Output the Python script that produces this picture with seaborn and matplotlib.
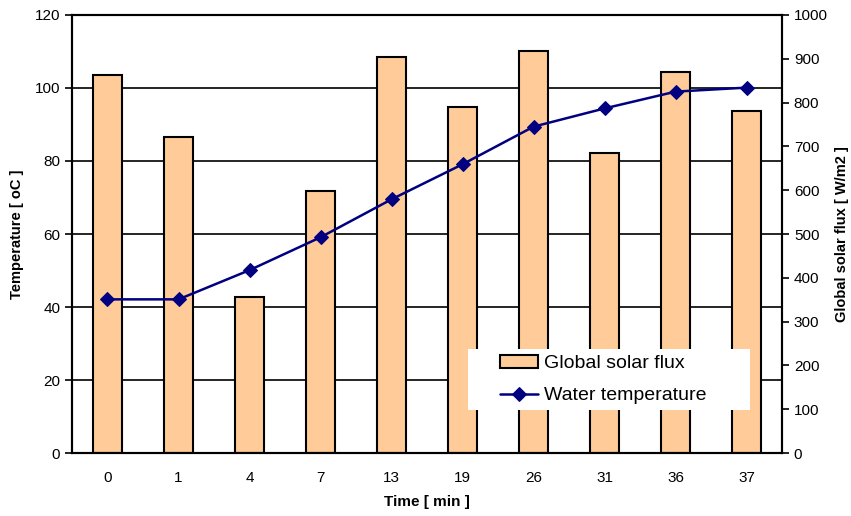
import numpy as np
import pandas as pd
import matplotlib
matplotlib.use('Agg')
import matplotlib.pyplot as plt
from matplotlib.patches import Rectangle
import seaborn as sns

# Data
times = ['0', '1', '4', '7', '13', '19', '26', '31', '36', '37']
solar_flux = [863, 721, 356, 599, 905, 791, 918, 686, 869, 781]
water_temp = [42.1, 42.1, 50.1, 59.1, 69.5, 79.1, 89.4, 94.4, 99.0, 100.1]
temp_ticks = [0, 20, 40, 60, 80, 100, 120]
flux_ticks = list(range(0, 1001, 100))

df = pd.DataFrame({'Time': times, 'Flux': solar_flux, 'Temp': water_temp})
df['pos'] = np.arange(len(df))

sns.set_style('white')
plt.rcParams['font.family'] = ['Liberation Sans', 'DejaVu Sans']
plt.rcParams['text.color'] = 'black'
plt.rcParams['axes.labelcolor'] = 'black'
plt.rcParams['xtick.color'] = 'black'
plt.rcParams['ytick.color'] = 'black'

fig = plt.figure(figsize=(8.51, 5.16), dpi=100)
ax = fig.add_axes([0.0846, 0.122, 0.8344, 0.849])

# gridlines follow the temperature ticks, drawn behind the bars
for t in temp_ticks:
    ax.axhline(t * 1000 / 120, color='black', lw=1.2, zorder=0)

sns.barplot(data=df, x='Time', y='Flux', order=times, color='#FFCC99',
            edgecolor='black', linewidth=1.5, width=0.41, saturation=1,
            ax=ax, label='Global solar flux', zorder=2)

ax_t = ax.twinx()
sns.lineplot(data=df, x='pos', y='Temp', color='#000080', lw=1.8, marker='D',
             markersize=7.5, markeredgecolor='#000080', ax=ax_t,
             label='Water temperature', zorder=4)

# flux axis on the right
ax.set_ylim(0, 1000)
ax.set_xlim(-0.5, len(times) - 0.5)
ax.yaxis.tick_right()
ax.yaxis.set_label_position('right')
ax.set_yticks(flux_ticks)
ax.set_ylabel('Global solar flux [ W/m2 ]', fontsize=10.5, fontweight='bold', labelpad=5)
ax.set_xlabel('Time [ min ]', fontsize=11, fontweight='bold', labelpad=7)
ax.set_xticks(np.arange(len(times)))
ax.set_xticklabels(times)
ax.set_xticks(np.arange(-0.5, len(times)), minor=True)
ax.tick_params(axis='x', which='major', length=0, labelsize=11, pad=13)
ax.tick_params(axis='x', which='minor', length=5, width=1.2, direction='out', color='black')
ax.tick_params(axis='y', length=5, width=1.2, direction='out', labelsize=11, color='black',
               right=True, left=False, labelright=True, labelleft=False)

# temperature axis on the left
ax_t.yaxis.tick_left()
ax_t.yaxis.set_label_position('left')
ax_t.set_ylim(0, 120)
ax_t.set_yticks(temp_ticks)
ax_t.set_ylabel('Temperature [ oC ]', fontsize=10.5, fontweight='bold', labelpad=8)
ax_t.tick_params(axis='y', length=5, width=1.2, direction='out', labelsize=11, color='black',
                 left=True, right=False, labelleft=True, labelright=False)
ax_t.set_xlim(-0.5, len(times) - 0.5)

for a in (ax, ax_t):
    for s in a.spines.values():
        s.set_color('black')
        s.set_linewidth(1.5)

# legend on a white box
ax_t.add_patch(Rectangle((0.558, 0.098), 0.397, 0.139, transform=ax_t.transAxes,
                         facecolor='white', edgecolor='none', zorder=5))
h1, l1 = ax.get_legend_handles_labels()
h2, l2 = ax_t.get_legend_handles_labels()
if ax.get_legend():
    ax.get_legend().remove()
leg = ax_t.legend(h1 + h2, l1 + l2, loc='center', bbox_to_anchor=(0.748, 0.168),
                  fontsize=14, frameon=False, handlelength=2.0,
                  handletextpad=0.3, labelspacing=0.75)
leg.set_zorder(6)

fig.savefig('out.png', dpi=100)
